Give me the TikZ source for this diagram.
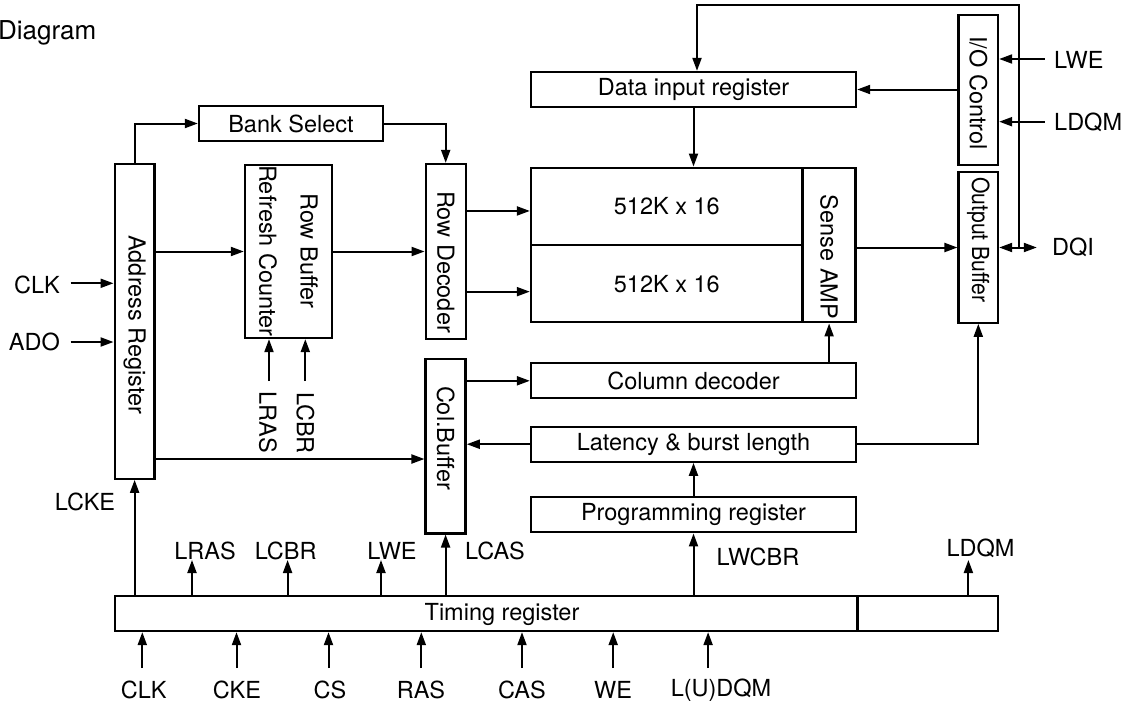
\documentclass[tikz,border=0pt]{standalone}
\usepackage{fontspec}
\setmainfont{TeX Gyre Heros}
\usetikzlibrary{arrows.meta}
\begin{document}
\begin{tikzpicture}[x=1pt,y=-1pt,
  box/.style={draw, line width=2.3pt, inner sep=0pt, rectangle, font=\fontsize{23.5}{28}\selectfont},
  txt/.style={inner sep=0pt, font=\fontsize{23.5}{28}\selectfont},
  rot/.style={txt, rotate=-90},
  ln/.style={line width=2pt},
  arr/.style={ln, -{Triangle[length=13pt,width=9pt]}},
  dbl/.style={ln, {Triangle[length=13pt,width=9pt]}-{Triangle[length=13pt,width=9pt]}}]
\useasboundingbox (0,0) rectangle (1127,704);

\node[txt, anchor=west, font=\fontsize{26}{30}\selectfont] (title) at (-2,33) {Diagram};

% boxes
\node[box, minimum width=39.8pt, minimum height=314.7pt] (addr) at (134.6,321.35) {};
\node[rot] (addrt) at (134.6,325) {Address Register};
\node[box, minimum width=87pt, minimum height=173pt] (rbuf) at (288.5,251.5) {};
\node[rot] (rbuft) at (309,251) {Row Buffer};
\node[rot] (rcnt) at (268,251) {Refresh Counter};
\node[box, minimum width=40pt, minimum height=175pt] (rdec) at (445.7,251.5) {};
\node[rot] (rdect) at (445.7,262) {Row Decoder};
\node[box, minimum width=40pt, minimum height=174.3pt] (colbuf) at (445.6,446.2) {};
\node[rot] (colbuft) at (445.6,438) {Col.Buffer};
\node[box, minimum width=184pt, minimum height=35pt] (bank) at (291,123.5) {Bank Select};
\node[box, minimum width=325pt, minimum height=35pt] (datain) at (693.5,89.5) {Data input register};
\node[box, minimum width=271.6pt, minimum height=77.3pt] (arr1) at (666.8,206.35) {512K x 16};
\node[box, minimum width=271.6pt, minimum height=77.3pt] (arr2) at (666.8,283.65) {512K x 16};
\node[box, minimum width=53pt, minimum height=154.6pt] (sense) at (829.1,245) {};
\node[rot] (senset) at (829.1,257) {Sense AMP};
\node[box, minimum width=39.4pt, minimum height=150pt] (ioc) at (978.3,90) {};
\node[rot] (ioct) at (978.3,93) {I/O Control};
\node[box, minimum width=39.4pt, minimum height=150.4pt] (outbuf) at (978.3,247.5) {};
\node[rot, xscale=0.9] (outbuft) at (978.3,240) {Output Buffer};
\node[box, minimum width=325pt, minimum height=35pt] (coldec) at (693.5,380.8) {Column decoder};
\node[box, minimum width=325pt, minimum height=35pt] (lat) at (693.5,444.2) {Latency \& burst length};
\node[box, minimum width=325pt, minimum height=35pt] (prog) at (693.5,514.8) {Programming register};
\node[box, minimum width=742.6pt, minimum height=35pt] (timing) at (486.3,613.5) {};
\node[txt] (timingt) at (502,614) {Timing register};
\node[box, minimum width=140.2pt, minimum height=35pt] (timing2) at (927.7,613.5) {};

% internal connectors
\draw[arr] (addr.north) |- (bank.west);
\draw[arr] (bank.east) -| (rdec.north);
\draw[arr] (addr.east |- rbuf.west) -- (rbuf.west);
\draw[arr] (rbuf.east) -- (rbuf.east -| rdec.west);
\path ([yshift=-4.6pt]arr1.west) coordinate (a1in) ([yshift=-8pt]arr2.west) coordinate (a2in)
      ([yshift=-12.8pt]colbuf.west) coordinate (cbin);
\draw[arr] (a1in -| rdec.east) -- (a1in);
\draw[arr] (a2in -| rdec.east) -- (a2in);
\draw[arr] (cbin -| addr.east) -- (cbin);
\draw[arr] (colbuf.east |- coldec.west) -- (coldec.west);
\draw[arr] (lat.west) -- (lat.west -| colbuf.east);
\draw[arr] (lat.east) -| (outbuf.south);
\draw[arr] (prog.north) -- (lat.south);
\draw[arr] (coldec.north -| sense.south) -- (sense.south);
\draw[arr] (datain.south) -- (datain.south |- arr1.north);
\draw[arr] (ioc.west |- datain.east) -- (datain.east);
\draw[arr] (sense.east |- outbuf.west) -- (outbuf.west);

% left inputs
\node[txt, anchor=east] (lclk) at (60,285) {CLK};
\node[txt, anchor=east] (lado) at (60,342) {ADO};
\coordinate (clkin) at (70.7,283.3);
\coordinate (adoin) at (70.7,342);
\draw[arr] (clkin) -- (clkin -| addr.west);
\draw[arr] (adoin) -- (adoin -| addr.west);

% refresh counter inputs
\node[rot] (llras) at (268,422) {LRAS};
\node[rot] (llcbr) at (305.5,423) {LCBR};
\coordinate (lrasin) at (269,381);
\coordinate (lcbrin) at (305.3,381);
\draw[arr] (lrasin) -- (lrasin |- rbuf.south);
\draw[arr] (lcbrin) -- (lcbrin |- rbuf.south);

% right side
\node[txt, anchor=west] (llwe) at (1054,60) {LWE};
\node[txt, anchor=west] (lldqm) at (1054,122) {LDQM};
\node[txt, anchor=west] (ldqi) at (1052,247) {DQI};
\coordinate (lwein) at (1044.6,59);
\coordinate (ldqmin) at (1044.6,121.7);
\draw[arr] (lwein) -- (lwein -| ioc.east);
\draw[arr] (ldqmin) -- (ldqmin -| ioc.east);
\coordinate (dqiend) at (1036.8,247.5);
\draw[dbl] (outbuf.east) -- (dqiend);
\coordinate (fbtop) at (1018.6,5);
\draw[arr] (fbtop |- outbuf.east) -- (fbtop) -| ([xshift=3.5pt]datain.north);

% timing register outputs
\draw[arr] (addr.south |- timing.north) -- (addr.south);
\coordinate (tlras) at (192,560);
\coordinate (tlcbr) at (287.6,560);
\coordinate (tlwe) at (381,560);
\coordinate (tldqm) at (968.4,560);
\draw[arr] (tlras |- timing.north) -- (tlras);
\draw[arr] (tlcbr |- timing.north) -- (tlcbr);
\draw[arr] (tlwe |- timing.north) -- (tlwe);
\draw[arr] (colbuf.south |- timing.north) -- (colbuf.south);
\draw[arr] (prog.south |- timing.north) -- (prog.south);
\draw[arr] (tldqm |- timing2.north) -- (tldqm);
\node[txt] (tlcke) at (85,502) {LCKE};
\node[txt] (tlrast) at (205,551) {LRAS};
\node[txt] (tlcbrt) at (285.7,551) {LCBR};
\node[txt] (tlwet) at (392,551) {LWE};
\node[txt] (tlcast) at (495,551) {LCAS};
\node[txt] (tlwcbrt) at (758,557) {LWCBR};
\node[txt] (tldqmt) at (980.5,548) {LDQM};

% timing register inputs
\foreach \ax/\lx/\t/\n in {142.3/143.8/CLK/iclk, 236.5/237/CKE/icke, 328.5/330/CS/ics,
    421.3/421/RAS/iras, 522/522/CAS/icas, 613.2/613/WE/iwe, 708.1/721/L(U)DQM/idqm} {
  \node[txt] (\n) at (\lx,690) {\t};
  \coordinate (\n s) at (\ax,668);
  \draw[arr] (\n s) -- (\n s |- timing.south);
}
\end{tikzpicture}
\end{document}
